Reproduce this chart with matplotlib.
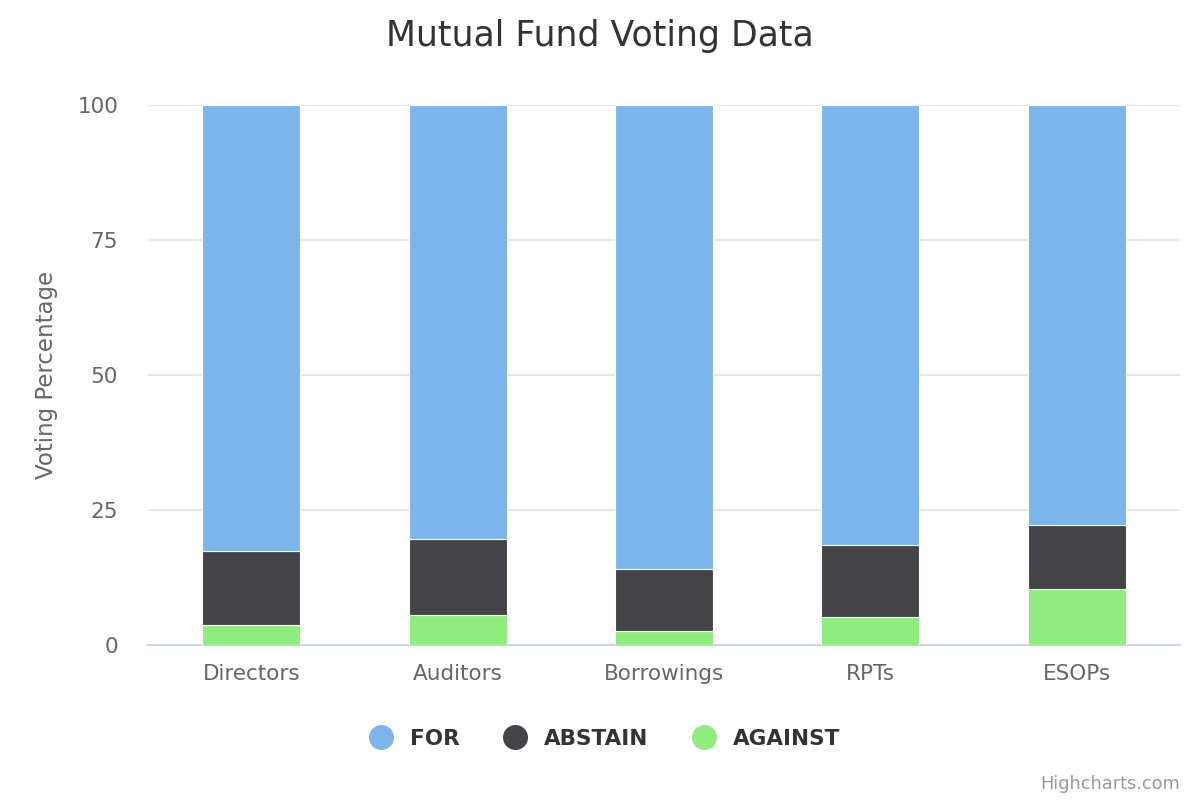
import matplotlib
matplotlib.use("Agg")
import matplotlib.pyplot as plt
from matplotlib.lines import Line2D
import numpy as np

categories = ["Directors", "Auditors", "Borrowings", "RPTs", "ESOPs"]
against = [3.7, 5.6, 2.6, 5.2, 10.4]
abstain = [13.7, 14.0, 11.5, 13.3, 11.8]
for_votes = [82.6, 80.4, 85.9, 81.5, 77.8]
yticks = [0, 25, 50, 75, 100]

c_for = "#7cb5ec"
c_abs = "#434348"
c_ag = "#90ed7d"

plt.rcParams['font.family'] = ['DejaVu Sans']
fig = plt.figure(figsize=(12, 8), dpi=100)
ax = fig.add_axes([148/1200, 155/800, (1180-148)/1200, 540/800])

x = np.arange(len(categories))
w = 0.475
ag = np.array(against)
ab = np.array(abstain)
fo = np.array(for_votes)
ax.bar(x, ag, w, color=c_ag, edgecolor="white", linewidth=0.8, zorder=3)
ax.bar(x, ab, w, bottom=ag, color=c_abs, edgecolor="white", linewidth=0.8, zorder=3)
ax.bar(x, fo, w, bottom=ag + ab, color=c_for, edgecolor="white", linewidth=0.8, zorder=3)

ax.set_xlim(-0.5, len(categories) - 0.5)
ax.set_ylim(0, 100)
ax.set_yticks(yticks)
ax.set_yticklabels([str(t) for t in yticks])
ax.set_xticks(x)
ax.set_xticklabels(categories)
ax.tick_params(axis='both', length=0, labelsize=15.5, colors="#666666")
ax.tick_params(axis='y', pad=21.5)
ax.tick_params(axis='x', pad=14)
for s in ["top", "right", "left"]:
    ax.spines[s].set_visible(False)
ax.spines["bottom"].set_color("#ccd6eb")
ax.spines["bottom"].set_linewidth(1.5)
ax.grid(axis='y', color="#e6e6e6", linewidth=1.5, zorder=0)
ax.set_axisbelow(True)
ax.set_ylabel("Voting Percentage", fontsize=16.5, color="#666666", labelpad=14)

fig.text(0.5, 1 - 36/800, "Mutual Fund Voting Data", ha="center", va="center",
         fontsize=25, color="#333333")

handles = [Line2D([], [], marker='o', linestyle='none', markersize=17,
                  markerfacecolor=c, markeredgecolor=c)
           for c in (c_for, c_abs, c_ag)]
leg = fig.legend(handles, ["FOR", "ABSTAIN", "AGAINST"], loc="center",
                 bbox_to_anchor=(0.5, 1 - 739/800), ncol=3, frameon=False,
                 prop={'size': 15.5, 'weight': 'bold'}, handletextpad=0.35,
                 columnspacing=1.58)
for t in leg.get_texts():
    t.set_color("#333333")

fig.text(1 - 20/1200, 1 - 784/800, "Highcharts.com", ha="right", va="center",
         fontsize=12.8, color="#999999")

fig.savefig("out.png", dpi=100)
